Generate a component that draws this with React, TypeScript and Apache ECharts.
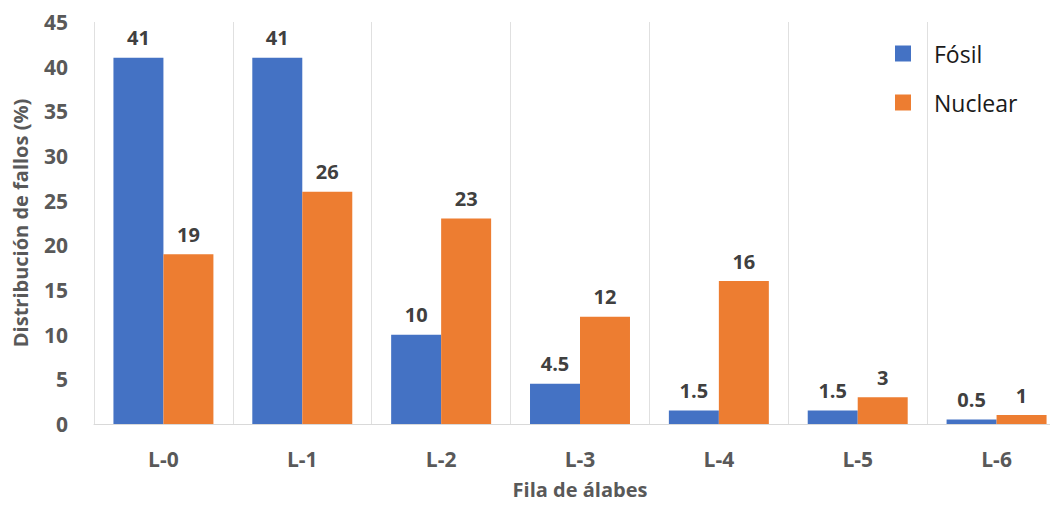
import React, { useEffect, useRef } from "react";
import * as echarts from "echarts";

const categories = ["L-0", "L-1", "L-2", "L-3", "L-4", "L-5", "L-6"];
const fosil = [41, 41, 10, 4.5, 1.5, 1.5, 0.5];
const nuclear = [19, 26, 23, 12, 16, 3, 1];
const seriesNames = ["Fósil", "Nuclear"];

export default function App() {
  const ref = useRef<HTMLDivElement>(null);
  useEffect(() => {
    document.body.style.margin = "0";
    document.body.style.overflow = "hidden";
    const chart = echarts.init(ref.current!, null, { renderer: "svg" });
    const font = "'Open Sans', sans-serif";
    const labelStyle = {
      show: true,
      position: "top" as const,
      distance: 10,
      fontFamily: font,
      fontWeight: "bold" as const,
      fontSize: 20,
      color: "#404040",
    };
    chart.setOption({
      animation: false,
      backgroundColor: "#ffffff",
      textStyle: { fontFamily: font },
      grid: {
        left: 94,
        top: 22,
        width: 972,
        bottom: 84,
        containLabel: false,
        outerBoundsMode: "none",
      },
      legend: {
        orient: "vertical",
        left: 890,
        top: 37,
        itemWidth: 16,
        itemHeight: 16,
        itemGap: 26,
        icon: "rect",
        textStyle: { fontFamily: font, fontSize: 23, color: "#1a1a1a", padding: [0, 0, 0, 18] },
        data: seriesNames,
      },
      xAxis: {
        type: "category",
        data: categories,
        name: "Fila de álabes",
        nameLocation: "middle",
        nameGap: 55,
        nameTextStyle: { fontFamily: font, fontWeight: "bold", fontSize: 20, color: "#595959" },
        axisLine: { show: true, lineStyle: { color: "#d9d9d9", width: 1 } },
        axisTick: { show: false },
        axisLabel: { fontFamily: font, fontWeight: "bold", fontSize: 21, color: "#595959", margin: 24 },
        splitLine: { show: true, showMinLine: true, showMaxLine: false, lineStyle: { color: "#e0e0e0", width: 1 } },
      },
      yAxis: {
        type: "value",
        min: 0,
        max: 45,
        interval: 5,
        name: "Distribución de fallos (%)",
        nameLocation: "middle",
        nameGap: 64,
        nameTextStyle: { fontFamily: font, fontWeight: "bold", fontSize: 20, color: "#595959" },
        axisLine: { show: false },
        axisTick: { show: false },
        splitLine: { show: false },
        axisLabel: { fontFamily: font, fontWeight: "bold", fontSize: 21, color: "#595959", margin: 26 },
      },
      series: [
        {
          name: seriesNames[0],
          type: "bar",
          data: fosil,
          barGap: "0%",
          barCategoryGap: "28%",
          itemStyle: { color: "#4472C4" },
          label: labelStyle,
        },
        {
          name: seriesNames[1],
          type: "bar",
          data: nuclear,
          barGap: "0%",
          barCategoryGap: "28%",
          itemStyle: { color: "#ED7D31" },
          label: labelStyle,
        },
      ],
    });
    return () => chart.dispose();
  }, []);
  return <div ref={ref} style={{ width: 1050, height: 508, overflow: "hidden" }} />;
}
